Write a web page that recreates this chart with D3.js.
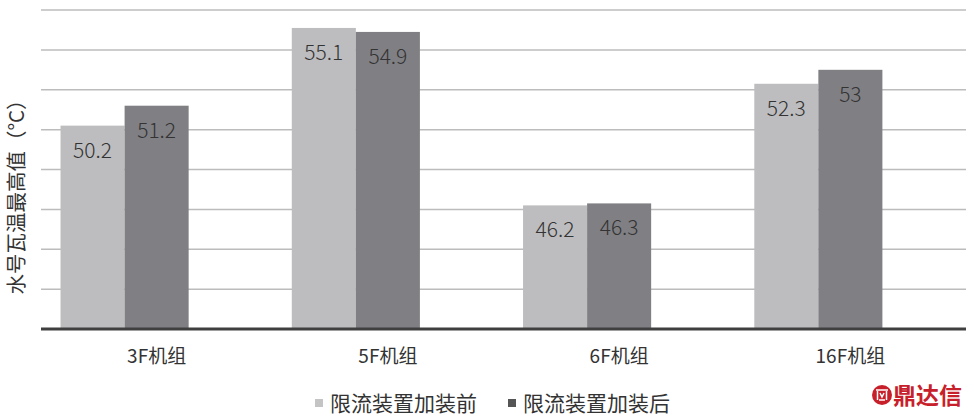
<!DOCTYPE html>
<html><head><meta charset="utf-8">
<script src="https://cdn.jsdelivr.net/npm/d3@7"></script>
<style>body{margin:0;background:#fff;}svg{display:block;font-family:"Noto Sans CJK SC","Noto Sans",sans-serif;}</style>
</head><body><svg id="c" width="974" height="420"></svg>
<script>
const categories = ["3F机组","5F机组","6F机组","16F机组"];
const seriesNames = ["限流装置加装前","限流装置加装后"];
const before = [50.2, 55.1, 46.2, 52.3];
const after = [51.2, 54.9, 46.3, 53];
const labelsBefore = ["50.2","55.1","46.2","52.3"];
const labelsAfter = ["51.2","54.9","46.3","53"];
const yTicks = [42,44,46,48,50,52,54,56];
const yTitle = "水号瓦温最高值（°C）";
const colors = ["#bdbdbf","#808084"];

const svg = d3.select("#c");
const x0 = d3.scaleBand().domain(categories).range([41,966]).paddingInner(0.169).paddingOuter(0.0845);
const x1 = d3.scaleBand().domain([0,1,2]).range([0,x0.bandwidth()]);
const y = d3.scaleLinear().domain([40,56]).range([329,10]);

svg.append("g").selectAll("line").data(yTicks).join("line")
  .attr("x1",41).attr("x2",966).attr("y1",d=>y(d)).attr("y2",d=>y(d))
  .attr("stroke","#bcbcbc").attr("stroke-width",1.5);

const series = [before, after];
const labels = [labelsBefore, labelsAfter];
series.forEach((vals,si)=>{
  const g = svg.append("g");
  g.selectAll("rect").data(vals).join("rect")
    .attr("x",(d,i)=>x0(categories[i])+x1(si))
    .attr("width",x1.bandwidth())
    .attr("y",d=>y(d)).attr("height",d=>y(40)-y(d))
    .attr("fill",colors[si]);
  g.selectAll("text").data(vals).join("text")
    .attr("x",(d,i)=>x0(categories[i])+x1(si)+x1.bandwidth()/2)
    .attr("y",d=>y(d)+32)
    .attr("text-anchor","middle").attr("font-size",21).attr("fill","#333")
    .attr("font-weight",300)
    .text((d,i)=>labels[si][i]);
});

svg.append("line").attr("x1",41).attr("x2",966).attr("y1",y(40)).attr("y2",y(40))
  .attr("stroke","#3f3f3f").attr("stroke-width",3);

svg.append("g").selectAll("text").data(categories).join("text")
  .attr("x",d=>x0(d)+x0.bandwidth()/2).attr("y",363)
  .attr("text-anchor","middle").attr("font-size",19).attr("fill","#333")
  .text(d=>d);

svg.append("text").attr("transform","translate(15,192) rotate(-90)")
  .attr("text-anchor","middle").attr("dominant-baseline","central")
  .attr("font-size",20.5).attr("fill","#333").text(yTitle);

const legX = [315, 508];
seriesNames.forEach((n,i)=>{
  svg.append("rect").attr("x",legX[i]).attr("y",399).attr("width",8).attr("height",8)
    .attr("fill",i===0?"#c4c4c4":"#555");
  svg.append("text").attr("x",legX[i]+15).attr("y",411).attr("font-size",21)
    .attr("fill","#333").text(n);
});

const red = "#c8202a";
const lg = svg.append("g");
lg.append("circle").attr("cx",882).attr("cy",395).attr("r",10).attr("fill",red);
lg.append("path").attr("d","M876,390 h12 M877.5,391 v9 M886.5,391 v9 M879,400 h6 M880,393 l2,4 l2,-4")
  .attr("stroke","#fff").attr("stroke-width",1.5).attr("fill","none");
lg.append("text").attr("x",893).attr("y",404).attr("font-size",23).attr("font-weight",700)
  .attr("fill",red).text("鼎达信");
</script></body></html>
